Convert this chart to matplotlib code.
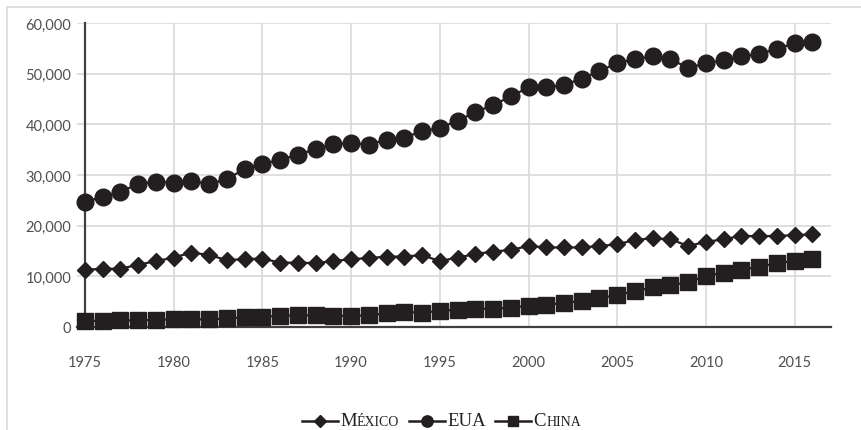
import matplotlib
matplotlib.use("Agg")
import matplotlib.pyplot as plt
from matplotlib.lines import Line2D
from matplotlib.patches import Rectangle
from matplotlib.offsetbox import HPacker, TextArea, DrawingArea, AnchoredOffsetbox
from matplotlib.ticker import FuncFormatter

years = list(range(1975, 2017))

mexico = [11300, 11500, 11500, 12300, 13000, 13700, 14700, 14200, 13200, 13400,
          13500, 12700, 12700, 12600, 13000, 13400, 13600, 13900, 13900, 14200,
          13000, 13700, 14400, 14900, 15200, 16000, 15700, 15700, 15700, 16000,
          16300, 17200, 17500, 17300, 16000, 16800, 17300, 18000, 17900, 18000,
          18100, 18300]

eua = [24700, 25700, 26700, 28200, 28700, 28500, 28900, 28200, 29200, 31200,
       32200, 33000, 34000, 35100, 36100, 36300, 36000, 37000, 37400, 38600,
       39300, 40700, 42400, 43800, 45500, 47300, 47300, 47800, 49000, 50500,
       52100, 52900, 53400, 52900, 51100, 52100, 52600, 53400, 53900, 54900,
       56000, 56300]

china = [1200, 1200, 1300, 1300, 1400, 1500, 1500, 1500, 1700, 1900,
         2000, 2200, 2300, 2300, 2200, 2200, 2300, 2700, 3000, 2800,
         3200, 3400, 3600, 3600, 3800, 4200, 4300, 4800, 5100, 5700,
         6300, 7100, 7800, 8300, 8800, 10100, 10700, 11300, 11900, 12600,
         13000, 13500]

xticks = [1975, 1980, 1985, 1990, 1995, 2000, 2005, 2010, 2015]
yticks = [0, 10000, 20000, 30000, 40000, 50000, 60000]

ink = "#231f20"
grid = "#d9d9d9"
label_color = "#505050"

fig = plt.figure(figsize=(8.62, 4.31), dpi=100)
ax = fig.add_axes([77 / 862, 1 - 328 / 431, (831 - 77) / 862, (328 - 24) / 431])

# outer chart frame (clipped by the image on the right and bottom)
fig.patches.append(Rectangle((7 / 862, -0.1), 1.2, 1 - 8 / 431 + 0.1,
                             transform=fig.transFigure, fill=False,
                             edgecolor=grid, lw=1.2))

series = [
    ("México", mexico, "D", 8.5),
    ("EUA", eua, "o", 12),
    ("China", china, "s", 11),
]
for name, vals, mk, ms in series:
    ax.plot(years, vals, color=ink, lw=1.6, marker=mk, markersize=ms,
            markerfacecolor=ink, markeredgecolor=ink, clip_on=False, zorder=3)

ax.set_xlim(1974.55, 2017.05)
ax.set_ylim(0, 60000)
ax.set_xticks(xticks)
ax.set_yticks(yticks)
ax.yaxis.set_major_formatter(FuncFormatter(lambda v, p: f"{int(v):,}"))
ax.grid(True, color=grid, lw=1.2, zorder=0)
ax.set_axisbelow(True)

for s in ["top", "right"]:
    ax.spines[s].set_visible(False)
ax.spines["left"].set_position(("data", 1975))
ax.spines["left"].set_color("#404040")
ax.spines["left"].set_linewidth(1.6)
ax.spines["bottom"].set_color("#404040")
ax.spines["bottom"].set_linewidth(1.6)
ax.tick_params(length=0, labelcolor=label_color, labelsize=10.5)
ax.tick_params(axis="x", pad=20)
ax.tick_params(axis="y", pad=10)
for lab in ax.get_xticklabels() + ax.get_yticklabels():
    lab.set_fontfamily("Lato")

# legend with small caps labels
serif = "Liberation Serif"
items = []
for name, vals, mk, ms in series:
    da = DrawingArea(26, 10, 0, 0)
    da.add_artist(Line2D([0, 13, 26], [5, 5, 5], color=ink, lw=1.8,
                         marker=mk, markersize=ms * 0.68, markevery=[1],
                         markerfacecolor=ink, markeredgecolor=ink))
    if name == "EUA":
        words = [TextArea(name, textprops=dict(size=13.5, family=serif, color=ink))]
    else:
        words = [TextArea(name[0], textprops=dict(size=13.5, family=serif, color=ink)),
                 TextArea(name[1:].upper(), textprops=dict(size=10, family=serif, color=ink))]
    label = HPacker(children=words, align="baseline", pad=0, sep=0)
    items.append(HPacker(children=[da, label], align="center", pad=0, sep=1.5))
legend_box = HPacker(children=items, align="center", pad=0, sep=7)
anchored = AnchoredOffsetbox(loc="lower center", child=legend_box, pad=0, frameon=False,
                             bbox_to_anchor=(0.512, 0.0), bbox_transform=fig.transFigure,
                             borderpad=0.05)
fig.add_artist(anchored)

fig.savefig("out.png", dpi=100)
